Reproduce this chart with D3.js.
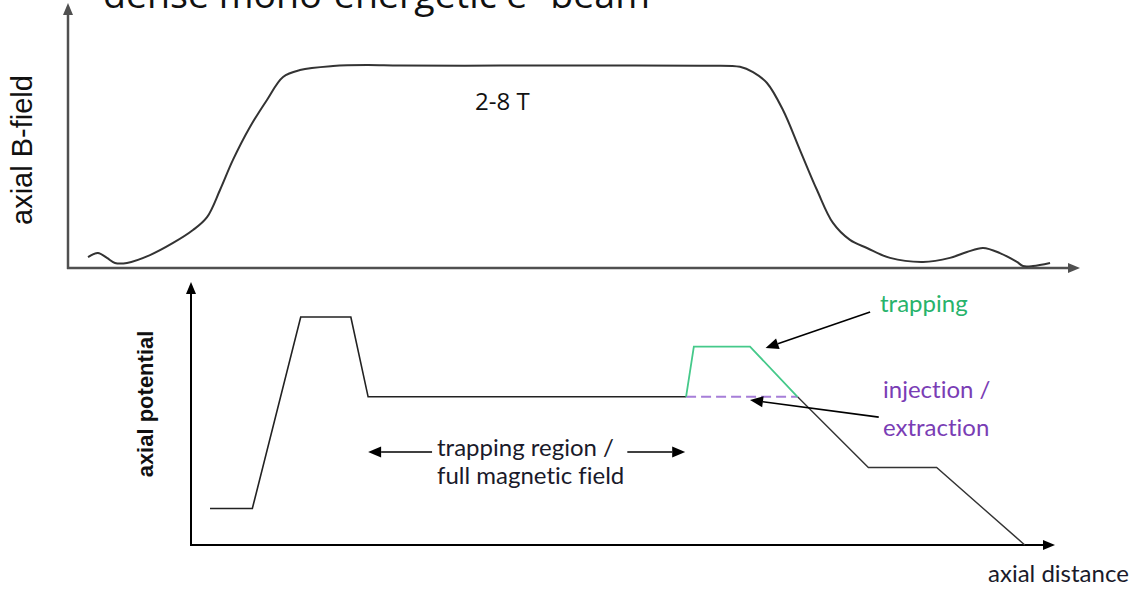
<!DOCTYPE html>
<html>
<head>
<meta charset="utf-8">
<script src="https://cdn.jsdelivr.net/npm/d3@7"></script>
<style>
  html, body { margin: 0; padding: 0; background: #fff; }
  svg { display: block; }
  text { font-variant-ligatures: none; }
</style>
</head>
<body>
<script>
// Axial magnetic field profile (axial distance in a.u., B relative to plateau)
const fieldZ = [1.98, 2.96, 3.85, 4.64, 5.83, 8.10, 10.38, 12.35, 13.74, 15.02, 16.30, 17.98,
  19.66, 21.25, 22.92, 26.19, 29.55, 32.81, 42.69, 52.57, 62.45, 66.40, 67.69, 69.07, 70.65,
  72.33, 74.01, 75.59, 77.27, 78.95, 81.23, 84.49, 87.15, 88.83, 90.42, 92.09, 93.77, 94.37,
  95.36, 97.04];
const fieldB = [0.054, 0.074, 0.050, 0.025, 0.025, 0.064, 0.124, 0.188, 0.252, 0.386, 0.535, 0.698,
  0.832, 0.946, 0.980, 1.000, 1.005, 1.002, 1.002, 1.002, 1.001, 0.996, 0.970, 0.916, 0.782,
  0.584, 0.386, 0.223, 0.139, 0.099, 0.050, 0.030, 0.050, 0.079, 0.099, 0.074, 0.030, 0.010,
  0.010, 0.025];

// Axial potential (relative units): common well, exit side, trapping barrier, injection level
const wellZ = [2.2, 7.1, 12.7, 18.5, 20.5, 57.3];
const wellV = [16, 16, 100, 100, 65, 65];
const exitZ = [70.2, 78.4, 86.3, 96.5];
const exitV = [65, 34, 34, 0];
const trapZ = [57.3, 58.2, 64.7, 70.2];
const trapV = [65, 87, 87, 65];
const injZ = [57.3, 70.2];
const injV = [65, 65];

const W = 1138, H = 591;
const svg = d3.select("body").append("svg").attr("width", W).attr("height", H);
svg.append("rect").attr("width", W).attr("height", H).attr("fill", "#fff");

// arrowhead at (x2,y2) pointing away from (x1,y1); the shaft stops at the head's base
function arrow(g, x1, y1, x2, y2, o) {
  const a = Math.atan2(y2 - y1, x2 - x1);
  const bx = x2 - o.len * Math.cos(a), by = y2 - o.len * Math.sin(a);
  const px = -Math.sin(a) * o.half, py = Math.cos(a) * o.half;
  g.append("line").attr("x1", x1).attr("y1", y1).attr("x2", bx).attr("y2", by)
    .attr("stroke", o.color).attr("stroke-width", o.width);
  g.append("path")
    .attr("d", `M${x2},${y2}L${bx + px},${by + py}L${bx - px},${by - py}Z`)
    .attr("fill", o.color);
}

// ---------- upper panel: axial B-field ----------
const xTop = d3.scaleLinear().domain([0, 100]).range([68, 1080]);
const yTop = d3.scaleLinear().domain([0, 1]).range([268, 66]);
const upper = svg.append("g");

const axTop = { len: 12, half: 5, color: "#505050", width: 2.5 };
arrow(upper, xTop(0), yTop(0) + 1, xTop(0), 3, axTop);
arrow(upper, xTop(0) - 1, yTop(0), xTop(100), yTop(0), axTop);

const fieldLine = d3.line()
  .x((d, i) => xTop(fieldZ[i]))
  .y(d => yTop(d))
  .curve(d3.curveCatmullRom.alpha(0.5));
upper.append("path").datum(fieldB)
  .attr("d", fieldLine)
  .attr("fill", "none").attr("stroke", "#333").attr("stroke-width", 2)
  .attr("stroke-linejoin", "round");

upper.append("text")
  .attr("transform", "translate(32,150) rotate(-90)")
  .attr("text-anchor", "middle")
  .attr("font-family", "'Liberation Sans', Arial, sans-serif")
  .attr("font-size", 29).attr("fill", "#111")
  .text("axial B-field");

const title = upper.append("text")
  .attr("x", 103).attr("y", 8)
  .attr("font-family", "'Open Sans', 'Noto Sans', sans-serif")
  .attr("font-size", 36).attr("fill", "#111")
  .attr("textLength", 547).attr("lengthAdjust", "spacingAndGlyphs");
title.append("tspan").text("dense mono-energetic e");
title.append("tspan").attr("baseline-shift", "super").attr("font-size", 22).text("−");
title.append("tspan").text(" beam");

upper.append("text")
  .attr("x", 475).attr("y", 110)
  .attr("font-family", "'Open Sans', 'Noto Sans', sans-serif")
  .attr("font-size", 24).attr("fill", "#111")
  .text("2-8 T");

// ---------- lower panel: axial potential ----------
const xBot = d3.scaleLinear().domain([0, 100]).range([191, 1055]);
const yBot = d3.scaleLinear().domain([0, 100]).range([545, 317]);
const lower = svg.append("g");

const axBot = { len: 12, half: 5, color: "#000", width: 2 };
arrow(lower, xBot(0), yBot(0) + 1, xBot(0), 282, axBot);
arrow(lower, xBot(0) - 1, yBot(0), xBot(100), yBot(0), axBot);

const potLine = zs => d3.line().x((d, i) => xBot(zs[i])).y(d => yBot(d));

lower.append("path").datum(wellV).attr("d", potLine(wellZ))
  .attr("fill", "none").attr("stroke", "#222").attr("stroke-width", 1.6);
lower.append("path").datum(exitV).attr("d", potLine(exitZ))
  .attr("fill", "none").attr("stroke", "#333").attr("stroke-width", 1.4);
lower.append("path").datum(injV).attr("d", potLine(injZ))
  .attr("fill", "none").attr("stroke", "#a67ed8").attr("stroke-width", 2)
  .attr("stroke-dasharray", "10,5");
lower.append("path").datum(trapV).attr("d", potLine(trapZ))
  .attr("fill", "none").attr("stroke", "#45c98a").attr("stroke-width", 1.8);

// pointer arrows (in axis units)
const pointer = { len: 13, half: 5.5, color: "#000", width: 1.6 };
[
  { from: [78.6, 102.2], to: [66.5, 86.4] },
  { from: [79.6, 56.1], to: [64.7, 63.6] },
  { from: [27.9, 40.8], to: [20.5, 40.8] },
  { from: [50.5, 40.8], to: [57.2, 40.8] }
].forEach(p => arrow(lower, xBot(p.from[0]), yBot(p.from[1]), xBot(p.to[0]), yBot(p.to[1]), pointer));

lower.append("text")
  .attr("transform", "translate(153,404) rotate(-90)")
  .attr("text-anchor", "middle")
  .attr("font-family", "'Liberation Sans', Arial, sans-serif")
  .attr("font-size", 22).attr("font-weight", "bold").attr("fill", "#111")
  .text("axial potential");

const calib = "Lato, 'Open Sans', sans-serif";
const lbl = (x, y, t, c) => lower.append("text").attr("x", x).attr("y", y)
  .attr("font-family", calib).attr("font-size", 24).attr("fill", c).text(t);

lbl(437, 456, "trapping region /", "#1a1a2a");
lbl(437, 484, "full magnetic field", "#1a1a2a");
lbl(880, 312, "trapping", "#27b36b");
lbl(883, 398, "injection /", "#7a3db5");
lbl(883, 436, "extraction", "#7a3db5");
lbl(988, 582, "axial distance", "#1a1a2a");
</script>
</body>
</html>
